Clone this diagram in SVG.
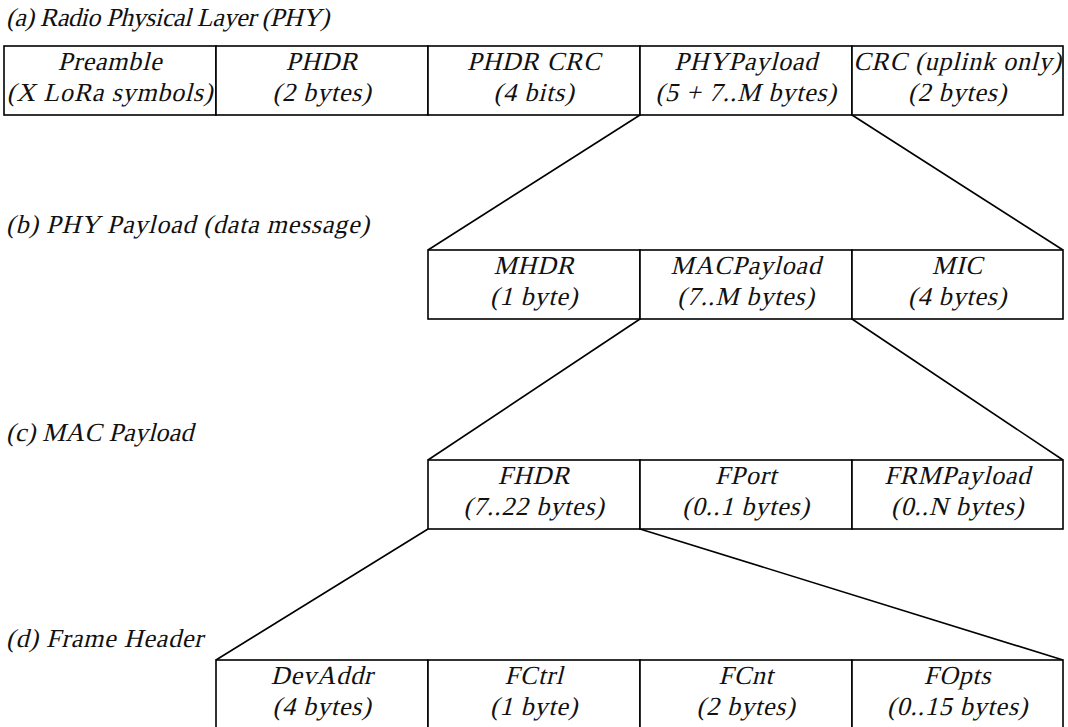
<svg xmlns="http://www.w3.org/2000/svg" width="1068" height="727" viewBox="0 0 1068 727">
  <style>
    /* upright serif face, slanted by a per-label skew transform */
    text { font-family: "Liberation Serif", "Times New Roman", serif; font-style: normal; font-size: 26px; letter-spacing: 0.8px; fill: #111; }
    .cell text { text-anchor: middle; }
    .cell rect { fill: #fff; stroke: #000; stroke-width: 1.6; }
    .conn line { stroke: #000; stroke-width: 1.6; }
  </style>
  <rect width="1068" height="727" fill="#fff"/>

  <!-- section captions -->
  <g id="captions">
    <text transform="translate(6 26) skewX(-14)" textLength="324" lengthAdjust="spacing">(a) Radio Physical Layer (PHY)</text>
    <text transform="translate(6 233) skewX(-14)">(b) PHY Payload (data message)</text>
    <text transform="translate(6 441) skewX(-14)" textLength="188" lengthAdjust="spacing">(c) MAC Payload</text>
    <text transform="translate(6 647) skewX(-14)">(d) Frame Header</text>
  </g>

  <!-- connectors: zoom lines from a field to its breakdown row -->
  <g id="connectors" class="conn">
    <line x1="640" y1="115" x2="428" y2="250"/>
    <line x1="852" y1="115" x2="1063" y2="250"/>
    <line x1="640" y1="319" x2="428" y2="460"/>
    <line x1="852" y1="319" x2="1063" y2="460"/>
    <line x1="428" y1="529" x2="216" y2="660"/>
    <line x1="640" y1="529" x2="1063" y2="660"/>
  </g>

  <!-- (a) PHY frame -->
  <g id="preamble" class="cell">
    <rect x="4" y="46" width="212" height="69"/>
    <text transform="translate(110 70) skewX(-14)">Preamble</text>
    <text transform="translate(110 101) skewX(-14)">(X LoRa symbols)</text>
  </g>
  <g id="phdr" class="cell">
    <rect x="216" y="46" width="212" height="69"/>
    <text transform="translate(322 70) skewX(-14)">PHDR</text>
    <text transform="translate(322 101) skewX(-14)">(2 bytes)</text>
  </g>
  <g id="phdr-crc" class="cell">
    <rect x="428" y="46" width="212" height="69"/>
    <text transform="translate(534 70) skewX(-14)">PHDR CRC</text>
    <text transform="translate(534 101) skewX(-14)">(4 bits)</text>
  </g>
  <g id="phypayload" class="cell">
    <rect x="640" y="46" width="212" height="69"/>
    <text transform="translate(746 70) skewX(-14)">PHYPayload</text>
    <text transform="translate(746 101) skewX(-14)">(5 + 7..M bytes)</text>
  </g>
  <g id="crc" class="cell">
    <rect x="852" y="46" width="211" height="69"/>
    <text transform="translate(957.5 70) skewX(-14)">CRC (uplink only)</text>
    <text transform="translate(957.5 101) skewX(-14)">(2 bytes)</text>
  </g>

  <!-- (b) PHY payload -->
  <g id="mhdr" class="cell">
    <rect x="428" y="250" width="212" height="69"/>
    <text transform="translate(534 274) skewX(-14)">MHDR</text>
    <text transform="translate(534 305) skewX(-14)">(1 byte)</text>
  </g>
  <g id="macpayload" class="cell">
    <rect x="640" y="250" width="212" height="69"/>
    <text transform="translate(746 274) skewX(-14)">MACPayload</text>
    <text transform="translate(746 305) skewX(-14)">(7..M bytes)</text>
  </g>
  <g id="mic" class="cell">
    <rect x="852" y="250" width="211" height="69"/>
    <text transform="translate(957.5 274) skewX(-14)">MIC</text>
    <text transform="translate(957.5 305) skewX(-14)">(4 bytes)</text>
  </g>

  <!-- (c) MAC payload -->
  <g id="fhdr" class="cell">
    <rect x="428" y="460" width="212" height="69"/>
    <text transform="translate(534 484) skewX(-14)">FHDR</text>
    <text transform="translate(534 515) skewX(-14)">(7..22 bytes)</text>
  </g>
  <g id="fport" class="cell">
    <rect x="640" y="460" width="212" height="69"/>
    <text transform="translate(746 484) skewX(-14)">FPort</text>
    <text transform="translate(746 515) skewX(-14)">(0..1 bytes)</text>
  </g>
  <g id="frmpayload" class="cell">
    <rect x="852" y="460" width="211" height="69"/>
    <text transform="translate(957.5 484) skewX(-14)">FRMPayload</text>
    <text transform="translate(957.5 515) skewX(-14)">(0..N bytes)</text>
  </g>

  <!-- (d) frame header -->
  <g id="devaddr" class="cell">
    <rect x="216" y="660" width="212" height="80"/>
    <text transform="translate(322 684) skewX(-14)">DevAddr</text>
    <text transform="translate(322 715) skewX(-14)">(4 bytes)</text>
  </g>
  <g id="fctrl" class="cell">
    <rect x="428" y="660" width="212" height="80"/>
    <text transform="translate(534 684) skewX(-14)">FCtrl</text>
    <text transform="translate(534 715) skewX(-14)">(1 byte)</text>
  </g>
  <g id="fcnt" class="cell">
    <rect x="640" y="660" width="212" height="80"/>
    <text transform="translate(746 684) skewX(-14)">FCnt</text>
    <text transform="translate(746 715) skewX(-14)">(2 bytes)</text>
  </g>
  <g id="fopts" class="cell">
    <rect x="852" y="660" width="211" height="80"/>
    <text transform="translate(957.5 684) skewX(-14)">FOpts</text>
    <text transform="translate(957.5 715) skewX(-14)">(0..15 bytes)</text>
  </g>
</svg>
